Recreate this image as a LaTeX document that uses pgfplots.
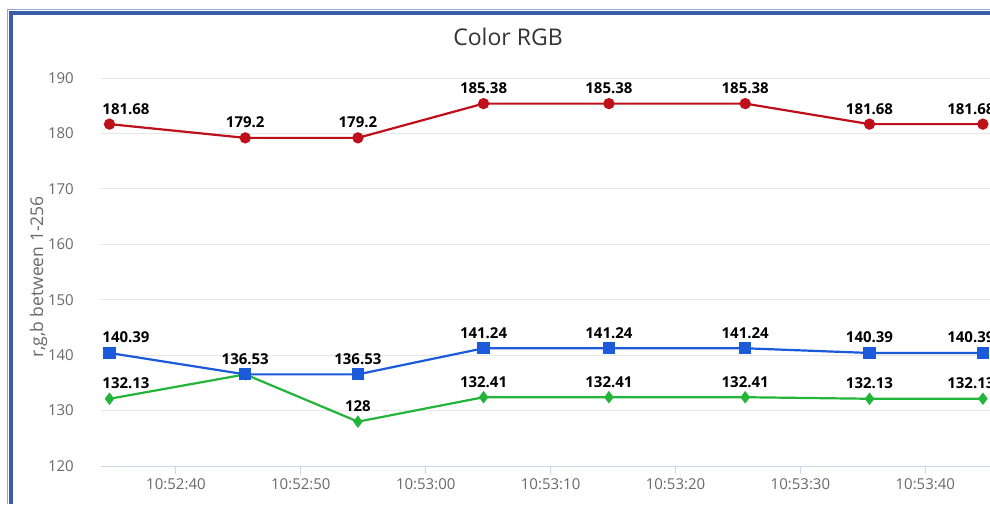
\documentclass[border=0pt]{standalone}
\usepackage{pgfplots}
\pgfplotsset{compat=1.18}
\usepackage{fontspec}
\setmainfont{Open Sans}
\definecolor{rc}{HTML}{BE0F1A}
\definecolor{bc}{HTML}{1B5AD8}
\definecolor{gc}{HTML}{22B53A}
\definecolor{lb}{HTML}{8FA6D6}
\definecolor{db}{HTML}{3A5EA6}
\definecolor{gridc}{HTML}{E6E6E6}
\definecolor{axc}{HTML}{CCD6EB}
\definecolor{tickc}{HTML}{6A6A6A}
\definecolor{titlec}{HTML}{333333}
\begin{document}
\begin{tikzpicture}[x=1pt,y=1pt]
\fill[white] (0,0) rectangle (990,504);
\draw[lb, line width=1.2pt] (7.5,494.2) -- (990,494.2);
\draw[db, line width=4pt] (10,490.5) -- (990,490.5);
\draw[lb, line width=1pt] (7.8,0) -- (7.8,494.8);
\draw[db, line width=4pt] (10.6,0) -- (10.6,492.5);
\node[font=\fontsize{23}{26}\selectfont, text=titlec, anchor=base] at (508,458) {Color RGB};
\node[rotate=90, font=\fontsize{17.5}{20}\selectfont, text=tickc, anchor=base] at (43,227) {r,g,b between 1-256};
\begin{axis}[
  at={(101pt,38pt)}, anchor=south west,
  scale only axis, width=894pt, height=388pt,
  xmin=34, xmax=105.58, ymin=120, ymax=190,
  ytick={120,130,...,190},
  xtick={40,50,...,100},
  xticklabels={10:52:40,10:52:50,10:53:00,10:53:10,10:53:20,10:53:30,10:53:40},
  ymajorgrids, grid style={color=gridc, line width=1pt},
  axis x line*=bottom, axis y line*=left,
  y axis line style={draw=none},
  x axis line style={color=axc, line width=1pt, -},
  tick align=outside, major tick length=8pt,
  xtick style={color=axc, line width=1pt},
  ytick style={draw=none},
  ticklabel style={font=\fontsize{15}{17}\selectfont, text=tickc},
  /pgf/number format/assume math mode=true,
  yticklabel style={anchor=east, inner sep=0pt, xshift=-19pt},
  xticklabel style={anchor=base, inner sep=0pt, yshift=-15pt},
  clip=false,
  visualization depends on={x \as \xv},
  every node near coord/.style={anchor=base, yshift=10pt, xshift={(\xv<35)*16.5-(\xv>104)*12}, inner sep=0pt, font=\fontsize{15}{17}\selectfont\bfseries, text=black},
  point meta=explicit symbolic,
]
\addplot[rc, line width=2.2pt, mark=*, mark size=4.5pt, nodes near coords] coordinates {
 (34.68,181.68) [181.68]
 (45.55,179.2) [179.2]
 (54.57,179.2) [179.2]
 (64.63,185.38) [185.38]
 (74.67,185.38) [185.38]
 (85.58,185.38) [185.38]
 (95.53,181.68) [181.68]
 (104.61,181.68) [181.68]
};
\addplot[gc, line width=2.2pt, mark=diamond*, mark size=4.5pt] coordinates {
 (34.68,132.13) (45.55,136.53) (54.57,128) (64.63,132.41)
 (74.67,132.41) (85.58,132.41) (95.53,132.13) (104.61,132.13)
};
\addplot[draw=none, mark=none, nodes near coords] coordinates {
 (34.68,132.13) [132.13]
 (54.57,128) [128]
 (64.63,132.41) [132.41]
 (74.67,132.41) [132.41]
 (85.58,132.41) [132.41]
 (95.53,132.13) [132.13]
 (104.61,132.13) [132.13]
};
\addplot[bc, line width=2.2pt, mark=square*, mark size=5pt, nodes near coords] coordinates {
 (34.68,140.39) [140.39]
 (45.55,136.53) [136.53]
 (54.57,136.53) [136.53]
 (64.63,141.24) [141.24]
 (74.67,141.24) [141.24]
 (85.58,141.24) [141.24]
 (95.53,140.39) [140.39]
 (104.61,140.39) [140.39]
};
\end{axis}
\pgfresetboundingbox
\path[use as bounding box] (0,0) rectangle (990,504);
\end{tikzpicture}
\end{document}
